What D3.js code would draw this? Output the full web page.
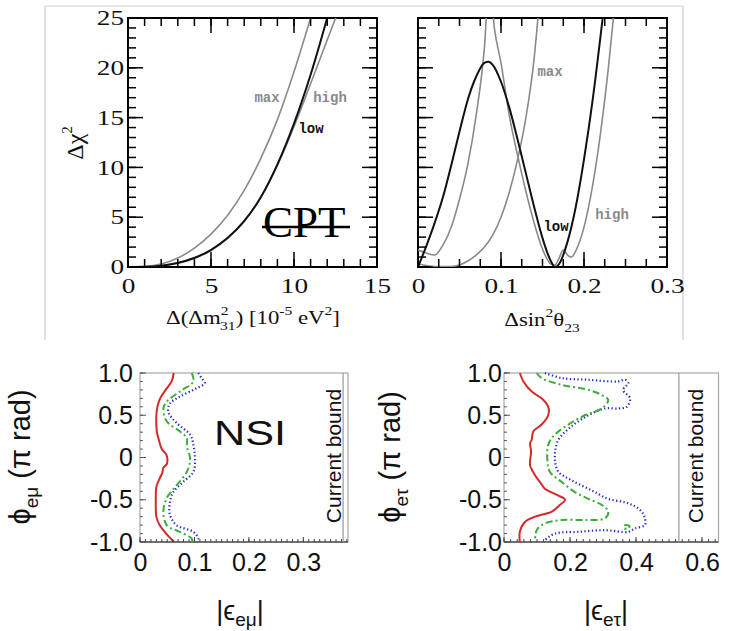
<!DOCTYPE html>
<html>
<head>
<meta charset="utf-8">
<title>CPT and NSI sensitivity</title>
<script src="https://cdnjs.cloudflare.com/ajax/libs/d3/7.8.5/d3.min.js"></script>
<style>
  body { margin: 0; background: #fff; }
  .top text { font-family: "Liberation Serif", serif; font-size: 21px; fill: #111; }
  .nsi text { font-family: "Liberation Sans", Arial, sans-serif; font-size: 25px; fill: #111; }
  .top text.lbl { font-family: "Liberation Mono", monospace; font-weight: bold; font-size: 14px; }
  .curve { fill: none; }
</style>
</head>
<body>
<svg id="fig" width="730" height="631"></svg>
<script>

// ---- upper left: delta chi^2 vs Delta(Delta m^2_31) [1e-5 eV^2]
var dmTicks = [0, 5, 10, 15];
var dmLowX  = [0, 1, 2, 3, 4, 5, 6, 7, 8, 9, 10, 11, 12];
var dmLowY  = [0, 0.02, 0.12, 0.4, 0.9, 1.7, 2.9, 4.6, 7.0, 10.3, 14.4, 19.3, 25];
var dmMaxX  = [0, 1, 2, 3, 4, 5, 6, 7, 8, 9, 10, 11];
var dmMaxY  = [0, 0.05, 0.3, 0.9, 1.9, 3.3, 5.2, 7.7, 10.9, 14.8, 19.6, 25];
var dmHighX = [0, 1, 2, 3, 4, 5, 6, 7, 8, 9, 10, 11, 12, 12.6];
var dmHighY = [0, 0.02, 0.13, 0.42, 0.95, 1.75, 2.95, 4.65, 7.0, 10.2, 14.1, 18.4, 22.8, 25.4];

// ---- upper right: delta chi^2 vs Delta sin^2 theta_23
var thTicks = [0, 0.1, 0.2, 0.3];
var thLowX  = [0, 0.01, 0.02, 0.03, 0.04, 0.05, 0.06, 0.07, 0.08, 0.085, 0.09, 0.10, 0.11, 0.12, 0.13, 0.14, 0.15, 0.16, 0.165, 0.17, 0.18, 0.19, 0.20, 0.21, 0.2225];
var thLowY  = [0, 2.1, 4.4, 7.0, 10.2, 13.6, 16.8, 19.1, 20.5, 20.6, 20.3, 18.6, 16.0, 12.8, 9.4, 6.0, 2.9, 0.6, 0, 0.3, 2.5, 6.0, 10.8, 16.5, 25];
var thHighX = [0, 0.01, 0.02, 0.03, 0.04, 0.05, 0.06, 0.07, 0.08, 0.086, 0.092, 0.10, 0.11, 0.12, 0.13, 0.14, 0.15, 0.16, 0.165, 0.17, 0.175, 0.18, 0.185, 0.19, 0.20, 0.21, 0.22, 0.23, 0.236];
var thHighY = [1.7, 1.4, 1.2, 2.2, 4.0, 6.8, 10.3, 15.2, 22.0, 29, 24.0, 20.5, 15.2, 11.2, 7.6, 4.4, 1.8, 0.3, 0.2, 0.9, 1.7, 1.2, 1.0, 1.6, 4.0, 8.0, 13.5, 20.5, 25.5];
var thMaxX  = [0, 0.02, 0.04, 0.05, 0.06, 0.07, 0.08, 0.09, 0.10, 0.11, 0.12, 0.13, 0.14, 0.145];
var thMaxY  = [0.3, 0.05, 0.05, 0.2, 0.6, 1.2, 2.0, 3.2, 5.0, 7.5, 10.8, 15.0, 21.0, 25.5];

// ---- lower panels: phase (pi rad) vs |eps|
var phiTicks  = [1, 0.5, 0, -0.5, -1];
var phiLabels = ["1.0", "0.5", "0", "-0.5", "-1.0"];
var emuTicks  = [0, 0.1, 0.2, 0.3];
var etauTicks = [0, 0.2, 0.4, 0.6];
var emuBound  = 0.373;
var etauBound = 0.53;

var emuRedPhi = [1.0, 0.9, 0.8, 0.7, 0.6, 0.5, 0.4, 0.3, 0.2, 0.1, 0.05, 0.0, -0.08, -0.12, -0.18, -0.25, -0.35, -0.5, -0.6, -0.7, -0.8, -0.9, -1.0];
var emuRedEps = [0.062, 0.058, 0.047, 0.037, 0.032, 0.030, 0.030, 0.031, 0.035, 0.040, 0.047, 0.050, 0.049, 0.043, 0.041, 0.036, 0.030, 0.029, 0.029, 0.030, 0.036, 0.048, 0.063];
var emuGrnPhi = [1.0, 0.9, 0.78, 0.66, 0.58, 0.43, 0.31, 0.23, 0.13, -0.01, -0.17, -0.33, -0.48, -0.64, -0.80, -0.88, -0.96, -1.0];
var emuGrnEps = [0.095, 0.098, 0.073, 0.049, 0.043, 0.049, 0.073, 0.086, 0.086, 0.092, 0.086, 0.067, 0.049, 0.043, 0.049, 0.073, 0.095, 0.096];
var emuBluPhi = [1.0, 0.94, 0.88, 0.82, 0.72, 0.64, 0.54, 0.41, 0.27, 0.15, -0.01, -0.17, -0.29, -0.41, -0.53, -0.68, -0.80, -0.88, -0.96, -1.0];
var emuBluEps = [0.107, 0.113, 0.119, 0.104, 0.073, 0.055, 0.052, 0.067, 0.092, 0.098, 0.101, 0.098, 0.079, 0.061, 0.055, 0.055, 0.067, 0.098, 0.107, 0.105];

var etauRedPhi = [1.0, 0.9, 0.78, 0.70, 0.60, 0.50, 0.39, 0.31, 0.21, 0.17, 0.07, -0.09, -0.21, -0.29, -0.37, -0.45, -0.50, -0.56, -0.64, -0.70, -0.76, -0.88, -1.0];
var etauRedEps = [0.048, 0.059, 0.084, 0.114, 0.134, 0.134, 0.114, 0.089, 0.084, 0.079, 0.082, 0.079, 0.094, 0.109, 0.124, 0.165, 0.185, 0.170, 0.145, 0.094, 0.064, 0.048, 0.048];
var etauGrnPhi = [1.0, 0.94, 0.86, 0.80, 0.74, 0.68, 0.58, 0.50, 0.39, 0.27, 0.15, -0.05, -0.17, -0.29, -0.41, -0.49, -0.56, -0.64, -0.72, -0.74, -0.74, -0.78, -0.86, -1.0];
var etauGrnEps = [0.099, 0.114, 0.175, 0.256, 0.296, 0.316, 0.296, 0.245, 0.195, 0.154, 0.134, 0.132, 0.139, 0.175, 0.215, 0.256, 0.296, 0.316, 0.306, 0.245, 0.175, 0.124, 0.099, 0.094];
var etauIslPhi = [-0.80, -0.81, -0.84, -0.835, -0.80];
var etauIslEps = [0.365, 0.38, 0.378, 0.364, 0.365];
var etauBluPhi = [1.0, 0.94, 0.92, 0.90, 0.92, 0.88, 0.80, 0.70, 0.60, 0.58, 0.58, 0.50, 0.37, 0.21, 0.07, -0.05, -0.17, -0.27, -0.39, -0.49, -0.53, -0.58, -0.64, -0.72, -0.80, -0.84, -0.88, -0.86, -0.88, -0.90, -0.98, -1.0];
var etauBluEps = [0.124, 0.175, 0.256, 0.346, 0.367, 0.377, 0.361, 0.382, 0.372, 0.346, 0.306, 0.256, 0.205, 0.165, 0.155, 0.155, 0.165, 0.205, 0.266, 0.316, 0.367, 0.397, 0.417, 0.427, 0.427, 0.397, 0.377, 0.306, 0.225, 0.155, 0.124, 0.121];

var svg = d3.select("#fig");

// scales
var xDm = d3.scaleLinear().domain([0, 15]).range([128, 377]);
var yL = d3.scaleLinear().domain([0, 25]).range([267, 18]);
var xTh = d3.scaleLinear().domain([0, 0.3]).range([418, 667]);
var yR = d3.scaleLinear().domain([0, 25]).range([267, 18]);
var xEmu = d3.scaleLinear().domain([0, 0.382]).range([140, 348]);
var yEmu = d3.scaleLinear().domain([-1, 1]).range([542, 373]);
var xEtau = d3.scaleLinear().domain([0, 0.65]).range([504, 718.5]);
var yEtau = d3.scaleLinear().domain([-1, 1]).range([542, 373]);

// tick marks pointing into the frame, kept as small filled rects; side: b, t, l, r
var tickSets = [];
function tickMarks(vals, f, side, pos, len, color, w) {
  vals.forEach(function(v) {
    var c = f(v), r;
    if (side === "b") r = {x: c - w / 2, y: pos - len, w: w, h: len};
    if (side === "t") r = {x: c - w / 2, y: pos, w: w, h: len};
    if (side === "l") r = {x: pos, y: c - w / 2, w: len, h: w};
    if (side === "r") r = {x: pos - len, y: c - w / 2, w: len, h: w};
    r.color = color;
    tickSets.push(r);
  });
}

function topTicks(x, y, xMinor, xMajor) {
  var L = x.range()[0], R = x.range()[1], B = y.range()[0], T = y.range()[1];
  var yMinor = d3.range(0, 26, 1), yMajor = [0, 5, 10, 15, 20, 25];
  tickMarks(xMinor, x, "b", B, 8, "#000", 1.5);
  tickMarks(xMinor, x, "t", T, 8, "#000", 1.5);
  tickMarks(xMajor, x, "b", B, 15, "#000", 1.5);
  tickMarks(xMajor, x, "t", T, 15, "#000", 1.5);
  tickMarks(yMinor, y, "l", L, 8, "#000", 1.5);
  tickMarks(yMinor, y, "r", R, 8, "#000", 1.5);
  tickMarks(yMajor, y, "l", L, 15, "#000", 1.5);
  tickMarks(yMajor, y, "r", R, 15, "#000", 1.5);
}

function nsiTicks(x, y, minorStep, xMajor) {
  var L = x.range()[0], B = y.range()[0];
  tickMarks(d3.range(0, x.domain()[1], minorStep), x, "b", B, 3, "#444", 1);
  tickMarks(xMajor, x, "b", B, 5, "#444", 1);
  tickMarks(d3.range(-1, 1.001, 0.1), y, "l", L, 3, "#555", 1);
  tickMarks(phiTicks, y, "l", L, 6, "#555", 1);
}

topTicks(xDm, yL, d3.range(0, 16, 1), dmTicks);
topTicks(xTh, yR, d3.range(0, 0.301, 0.025), thTicks);
nsiTicks(xEmu, yEmu, 0.01, emuTicks);
nsiTicks(xEtau, yEtau, 0.02, etauTicks);

function pts(xs, ys) { return xs.map(function(v, i) { return [v, ys[i]]; }); }

// axis used for the tick labels only
function labels(g, axis, tr) {
  var a = g.append("g").attr("transform", tr).call(axis);
  a.select(".domain").remove();
  return a;
}

// light border round the upper figure
svg.append("path").attr("d", "M45,340V6H683V340")
  .attr("fill", "none").attr("stroke", "#cfcfcf").attr("stroke-width", 1.2);

function topPanel(id, x, y, xMajor, withY) {
  var g = svg.append("g").attr("class", "top");
  var L = x.range()[0], R = x.range()[1], B = y.range()[0], T = y.range()[1];
  var bx = labels(g, d3.axisBottom(x).tickValues(xMajor).tickSize(0).tickPadding(11).tickFormat(String),
    "translate(0," + B + ")");
  bx.selectAll("text").attr("transform", "scale(1.3,1)");
  if (withY) {
    var ly = labels(g, d3.axisLeft(y).tickValues([0, 5, 10, 15, 20, 25]).tickSize(0).tickPadding(3)
      .tickFormat(String), "translate(" + L + ",0)");
    ly.selectAll("text").attr("transform", "scale(1.3,1)");
  }
  g.append("clipPath").attr("id", id).append("rect")
    .attr("x", L).attr("y", T).attr("width", R - L).attr("height", B - T);
  g.append("rect").attr("x", L).attr("y", T).attr("width", R - L).attr("height", B - T)
    .attr("fill", "none").attr("stroke", "#000").attr("stroke-width", 2);
  return g;
}

function drawCurves(g, id, x, y, list) {
  var line = d3.line().x(function(d) { return x(d[0]); }).y(function(d) { return y(d[1]); })
    .curve(d3.curveMonotoneX);
  var c = g.append("g").attr("clip-path", "url(#" + id + ")");
  list.forEach(function(s) {
    c.append("path").attr("class", "curve").attr("d", line(s.d))
      .attr("stroke", s.color).attr("stroke-width", s.w);
  });
}

function label(g, txt, x, y, color) {
  g.append("text").attr("class", "lbl").attr("x", x).attr("y", y)
    .attr("text-anchor", "middle").style("fill", color).text(txt);
}

// ---------- upper left
var gL = topPanel("clipL", xDm, yL, dmTicks, true);
drawCurves(gL, "clipL", xDm, yL, [
  {d: pts(dmMaxX, dmMaxY), color: "#8a8a8a", w: 1.6},
  {d: pts(dmHighX, dmHighY), color: "#8a8a8a", w: 1.6},
  {d: pts(dmLowX, dmLowY), color: "#111", w: 2}
]);
label(gL, "max", 267, 102, "#8a8a8a");
label(gL, "high", 330, 102, "#8a8a8a");
label(gL, "low", 311, 133, "#111");

var cpt = gL.append("text").attr("x", 263).attr("y", 237)
  .style("font-size", "45px").style("fill", "#000").text("CPT");
gL.append("line").attr("x1", 262).attr("x2", 350)
  .attr("y1", 227).attr("y2", 227).attr("stroke", "#000").attr("stroke-width", 2.5);

var xt = gL.append("text").attr("transform", "translate(253,324) scale(1.2,1)")
  .attr("text-anchor", "middle").style("font-size", "19px");
xt.append("tspan").text("\u0394(\u0394m");
xt.append("tspan").attr("dy", -9).style("font-size", "13px").text("2");
xt.append("tspan").attr("dx", -7).attr("dy", 15).style("font-size", "13px").text("31");
xt.append("tspan").attr("dy", -6).text(") [10");
xt.append("tspan").attr("dy", -9).style("font-size", "13px").text("-5");
xt.append("tspan").attr("dy", 9).text(" eV");
xt.append("tspan").attr("dy", -9).style("font-size", "13px").text("2");
xt.append("tspan").attr("dy", 9).text("]");

var yt = gL.append("text").attr("transform", "translate(83,143) rotate(-90)")
  .attr("text-anchor", "middle").style("font-size", "24px");
yt.append("tspan").text("\u0394\u03c7");
yt.append("tspan").attr("dy", -11).style("font-size", "15px").text("2");

// ---------- upper right
var gR = topPanel("clipR", xTh, yR, thTicks, false);
drawCurves(gR, "clipR", xTh, yR, [
  {d: pts(thMaxX, thMaxY), color: "#8a8a8a", w: 1.6},
  {d: pts(thHighX, thHighY), color: "#8a8a8a", w: 1.6},
  {d: pts(thLowX, thLowY), color: "#111", w: 2}
]);
label(gR, "max", 550, 76, "#8a8a8a");
label(gR, "high", 612, 219, "#8a8a8a");
label(gR, "low", 556, 231, "#111");

var xt2 = gR.append("text").attr("transform", "translate(542,326) scale(1.2,1)")
  .attr("text-anchor", "middle").style("font-size", "19px");
xt2.append("tspan").text("\u0394sin");
xt2.append("tspan").attr("dy", -9).style("font-size", "13px").text("2");
xt2.append("tspan").attr("dy", 9).text("\u03b8");
xt2.append("tspan").attr("dy", 6).style("font-size", "13px").text("23");

// ---------- lower panels
function nsiPanel(x, y, xMajor, pad, bound) {
  var g = svg.append("g").attr("class", "nsi");
  var L = x.range()[0], R = x.range()[1], B = y.range()[0], T = y.range()[1];
  g.append("rect").attr("x", L).attr("y", T).attr("width", R - L).attr("height", B - T)
    .attr("fill", "none").attr("stroke", "#a8a8a8").attr("stroke-width", 1.2);
  labels(g, d3.axisBottom(x).tickValues(xMajor).tickSize(0).tickPadding(11).tickFormat(String),
    "translate(0," + B + ")");
  labels(g, d3.axisLeft(y).tickValues(phiTicks).tickSize(0).tickPadding(pad)
    .tickFormat(function(d, i) { return phiLabels[i]; }), "translate(" + L + ",0)");
  g.append("line").attr("x1", L).attr("x2", R).attr("y1", B).attr("y2", B)
    .attr("stroke", "#555").attr("stroke-width", 1.5);
  g.append("line").attr("x1", x(bound)).attr("x2", x(bound)).attr("y1", T).attr("y2", B)
    .attr("stroke", "#999").attr("stroke-width", 1.2);
  return g;
}

function contours(g, x, y, red, grn, blu) {
  var line = d3.line().x(function(d) { return x(d[0]); }).y(function(d) { return y(d[1]); })
    .curve(d3.curveCatmullRom.alpha(0.5));
  blu.forEach(function(d) {
    g.append("path").attr("class", "curve").attr("d", line(d)).attr("stroke", "#2330c8")
      .attr("stroke-width", 2.2).attr("stroke-dasharray", "1.3,2.4");
  });
  grn.forEach(function(d) {
    g.append("path").attr("class", "curve").attr("d", line(d)).attr("stroke", "#3cae3c")
      .attr("stroke-width", 2).attr("stroke-dasharray", "7,3,2,3");
  });
  red.forEach(function(d) {
    g.append("path").attr("class", "curve").attr("d", line(d)).attr("stroke", "#d42a2a")
      .attr("stroke-width", 2);
  });
}

function bottomTitles(g, sub, yx, xx, boundX) {
  var t = g.append("text").attr("transform", "translate(" + yx + ",457) rotate(-90)")
    .attr("text-anchor", "middle").style("font-size", "29px");
  t.append("tspan").text("\u03d5");
  t.append("tspan").attr("dy", 8).style("font-size", "19px").text(sub);
  t.append("tspan").attr("dy", -8).text(" (\u03c0 rad)");
  var s = g.append("text").attr("transform", "translate(" + xx + ",620)")
    .attr("text-anchor", "middle").style("font-size", "27px");
  s.append("tspan").text("|\u03f5");
  s.append("tspan").attr("dy", 6).style("font-size", "19px").text(sub);
  s.append("tspan").attr("dy", -6).text("|");
  g.append("text").attr("transform", "translate(" + boundX + ",456) rotate(-90)")
    .attr("text-anchor", "middle").style("font-size", "21px").text("Current bound");
}

var gE = nsiPanel(xEmu, yEmu, emuTicks, 7, emuBound);
contours(gE, xEmu, yEmu, [pts(emuRedEps, emuRedPhi)], [pts(emuGrnEps, emuGrnPhi)], [pts(emuBluEps, emuBluPhi)]);
bottomTitles(gE, "e\u03bc", 30, 240, 341);
gE.append("text").attr("transform", "translate(250,445) scale(1.2,1)")
  .attr("text-anchor", "middle").style("font-size", "36px").text("NSI");

var gT = nsiPanel(xEtau, yEtau, etauTicks, 2, etauBound);
contours(gT, xEtau, yEtau, [pts(etauRedEps, etauRedPhi)],
  [pts(etauGrnEps, etauGrnPhi), pts(etauIslEps, etauIslPhi)], [pts(etauBluEps, etauBluPhi)]);
bottomTitles(gT, "e\u03c4", 400, 606, 703);

// tick marks last, on top of the frames
svg.append("g").attr("class", "tickmarks").selectAll("rect").data(tickSets).enter().append("rect")
  .attr("x", function(t) { return t.x; }).attr("y", function(t) { return t.y; })
  .attr("width", function(t) { return t.w; }).attr("height", function(t) { return t.h; })
  .attr("fill", function(t) { return t.color; });

</script>
</body>
</html>
